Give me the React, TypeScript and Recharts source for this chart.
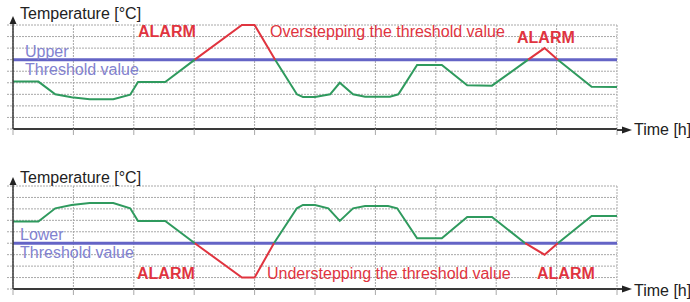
import React from "react"
import { LineChart, Line, XAxis, YAxis, CartesianGrid, ReferenceLine } from "recharts"

// upper chart: temperature exceeding the upper threshold
const upperTime = [0, 0.42, 0.7, 0.97, 1.27, 1.66, 1.94, 2.07, 2.52, 3.01, 3.79, 4.0, 4.34, 4.7, 4.8, 5.0, 5.25, 5.41, 5.63, 5.83, 6.24, 6.38, 6.69, 7.1, 7.52, 7.93, 8.53, 8.8, 9.02, 9.58, 10]
const upperTemp = [4.1, 4.1, 3.0, 2.75, 2.57, 2.57, 2.97, 4.07, 4.07, 6, 9, 9, 6, 3.0, 2.77, 2.77, 3.0, 4.0, 3.0, 2.8, 2.8, 3.0, 5.54, 5.54, 3.78, 3.75, 6, 7, 6, 3.66, 3.63]
const upperThreshold = 6

// lower chart: temperature falling below the lower threshold
const lowerTime = [0, 0.42, 0.7, 0.97, 1.27, 1.66, 1.94, 2.07, 2.52, 3.01, 3.79, 4.0, 4.32, 4.7, 4.8, 5.0, 5.22, 5.41, 5.63, 5.83, 6.21, 6.36, 6.69, 7.1, 7.52, 7.93, 8.48, 8.8, 9.02, 9.58, 10]
const lowerTemp = [5.9, 5.9, 7.05, 7.34, 7.52, 7.52, 7.05, 5.95, 5.95, 4, 1, 1, 4, 7.05, 7.34, 7.34, 7.05, 5.95, 7.05, 7.26, 7.26, 7.05, 4.44, 4.44, 6.3, 6.3, 4, 3, 4, 6.38, 6.38]
const lowerThreshold = 4

const xTicks = [0, 1, 2, 3, 4, 5, 6, 7, 8, 9, 10]
const yTicks = [0, 1, 2, 3, 4, 5, 6, 7, 8, 9]

const GREEN = "#2f9a5e"
const RED = "#e0343f"
const PURPLE = "#6464c6"
const LAVENDER = "#8282d0"
const GRID = "#a8a8a8"
const AXIS = "#3a3a3a"
const FONT = "'Liberation Sans', Arial, sans-serif"

const W = 690
const H = 151

type Row = { t: number; ok: number | null; alarm: number | null }

function buildRows(time: number[], temp: number[], threshold: number, above: boolean): Row[] {
  return time.map((t, i) => {
    const v = temp[i]
    const isOk = above ? v <= threshold : v >= threshold
    const isAlarm = above ? v >= threshold : v <= threshold
    return { t, ok: isOk ? v : null, alarm: isAlarm ? v : null }
  })
}

const upperRows = buildRows(upperTime, upperTemp, upperThreshold, true)
const lowerRows = buildRows(lowerTime, lowerTemp, lowerThreshold, false)

const blank = () => ""

function TempChart({ rows, threshold, top }: { rows: Row[]; threshold: number; top: number }) {
  return (
    <div style={{ position: "absolute", left: 0, top }}>
      <LineChart
        width={W}
        height={H}
        data={rows}
        margin={{ top: top === 0 ? 25 : 35, right: 73, bottom: top === 0 ? 21 : 12, left: 12 }}
      >
        <CartesianGrid stroke={GRID} strokeDasharray="2 1" />
        <XAxis
          type="number"
          dataKey="t"
          domain={[0, 10]}
          ticks={xTicks}
          interval={0}
          height={1}
          tickFormatter={blank}
          tickSize={6}
          tickLine={{ stroke: GRID }}
          axisLine={{ stroke: AXIS, strokeWidth: 2 }}
        />
        <YAxis
          type="number"
          domain={[0, 9]}
          ticks={yTicks}
          interval={0}
          width={1}
          tickFormatter={blank}
          tickSize={6}
          tickLine={{ stroke: GRID, strokeDasharray: "2 1" }}
          axisLine={{ stroke: AXIS, strokeWidth: 1.5 }}
        />
        <ReferenceLine y={threshold} stroke={PURPLE} strokeWidth={3} />
        <Line type="linear" dataKey="ok" stroke={GREEN} strokeWidth={2} dot={false} isAnimationActive={false} />
        <Line type="linear" dataKey="alarm" stroke={RED} strokeWidth={2} dot={false} isAnimationActive={false} />
      </LineChart>
    </div>
  )
}

const labelStyle = { fontFamily: FONT, fontSize: 16 }

export default function App() {
  return (
    <div style={{ position: "absolute", left: 0, top: 0, width: W, height: H * 2, background: "#fff" }}>
      <TempChart rows={upperRows} threshold={upperThreshold} top={0} />
      <TempChart rows={lowerRows} threshold={lowerThreshold} top={H} />
      <svg width={W} height={H * 2} style={{ position: "absolute", left: 0, top: 0, pointerEvents: "none" }}>
        {/* upper chart axes arrows */}
        <line x1={13} y1={25} x2={13} y2={22} stroke={AXIS} strokeWidth={1.5} />
        <polygon points="9.5,24 16.5,24 13,16" fill="#222" />
        <line x1={617} y1={130} x2={624} y2={130} stroke={AXIS} strokeWidth={2} />
        <polygon points="622,126.5 622,133.5 632,130" fill="#222" />
        {/* lower chart axes arrows */}
        <line x1={13} y1={186} x2={13} y2={183} stroke={AXIS} strokeWidth={1.5} />
        <polygon points="9.5,185 16.5,185 13,177" fill="#222" />
        <line x1={617} y1={289} x2={624} y2={289} stroke={AXIS} strokeWidth={2} />
        <polygon points="622,285.5 622,292.5 632,289" fill="#222" />

        <g style={labelStyle}>
          <text x={20} y={19} fill="#222">Temperature [°C]</text>
          <text x={138} y={37} fill={RED} fontWeight="bold">ALARM</text>
          <text x={270} y={37} fill={RED}>Overstepping the threshold value</text>
          <text x={517} y={43} fill={RED} fontWeight="bold">ALARM</text>
          <text x={25} y={57} fill={LAVENDER}>Upper</text>
          <text x={25} y={75} fill={LAVENDER}>Threshold value</text>
          <text x={634} y={135} fill="#222">Time [h]</text>

          <text x={20} y={183} fill="#222">Temperature [°C]</text>
          <text x={20} y={240} fill={LAVENDER}>Lower</text>
          <text x={20} y={258} fill={LAVENDER}>Threshold value</text>
          <text x={137} y={279} fill={RED} fontWeight="bold">ALARM</text>
          <text x={267} y={279} fill={RED}>Understepping the threshold value</text>
          <text x={537} y={279} fill={RED} fontWeight="bold">ALARM</text>
          <text x={634} y={296} fill="#222">Time [h]</text>
        </g>
      </svg>
    </div>
  )
}
